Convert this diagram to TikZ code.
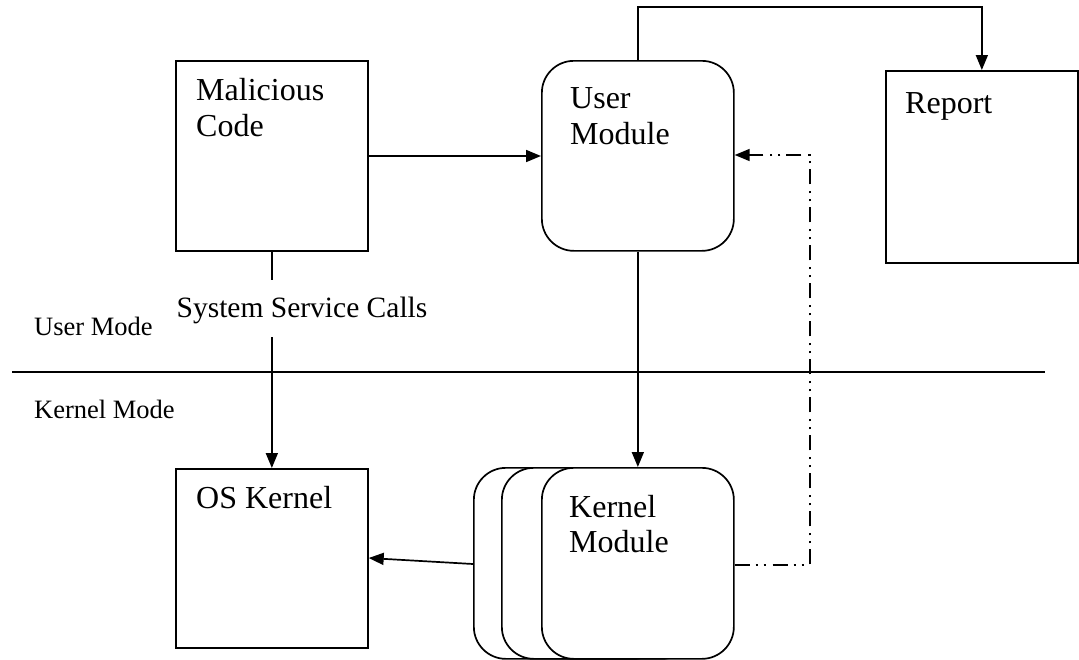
\documentclass[tikz,border=0pt]{standalone}
\usepackage{fontspec}
\setmainfont{Liberation Serif}
\usetikzlibrary{arrows.meta}
\begin{document}
\begin{tikzpicture}[x=1pt,y=-1pt,
  box/.style={draw, line width=1.7pt, fill=white, minimum width=192pt, inner sep=0pt, anchor=north west},
  rbox/.style={box, rounded corners=32pt},
  lbl/.style={font=\fontsize{32}{36}\selectfont, align=left, anchor=base west, inner sep=0pt},
  small/.style={font=\fontsize{26.5}{30}\selectfont, anchor=base west, inner sep=0pt},
  conn/.style={line width=1.7pt, -{Triangle[length=15pt,width=12pt]}},
  plain/.style={line width=1.7pt},
  dd/.style={conn, dash pattern=on 15pt off 6pt on 2pt off 6pt on 2pt off 7pt}]
\useasboundingbox (0,0) rectangle (1079,659);
% boxes
\node[box, minimum height=190pt] (mal) at (175,60) {};
\node[rbox, minimum height=190pt] (um) at (541,60) {};
\node[box, minimum height=192pt] (rep) at (885,70) {};
\node[box, minimum height=179pt] (os) at (175,468) {};
\node[rbox, minimum height=191pt] (km1) at (473,467) {};
\node[rbox, minimum height=191pt] (km2) at (501,467) {};
\node[rbox, minimum height=191pt] (km3) at (541,467) {};
% texts
\node[lbl] (maltxt) at (196,100) {Malicious};
\node[lbl] (maltxt2) at (196,136) {Code};
\node[lbl] (umtxt) at (570,108) {User};
\node[lbl] (umtxt2) at (570,144) {Module};
\node[lbl] (reptxt) at (905,113) {Report};
\node[lbl] (ostxt) at (196,508) {OS Kernel};
\node[lbl] (kmtxt) at (569,517) {Kernel};
\node[lbl] (kmtxt2) at (569,552) {Module};
\node[font=\fontsize{29.5}{33}\selectfont, anchor=base, inner sep=0pt] (ssc) at (302,317) {System Service Calls};
\node[small] (umode) at (34,335) {User Mode};
\node[small] (kmode) at (34,418) {Kernel Mode};
% separator
\coordinate (sepL) at (12,372);
\coordinate (sepR) at (1045,372);
\draw[plain] (sepL) -- (sepR);
% connectors
\draw[conn] (mal.east |- 0,156) -- (um.west |- 0,156);
\draw[plain] (mal.south) -- ++(0,28);
\draw[conn] (mal.south |- 0,337) -- (os.north);
\draw[conn] (um.north) -- ++(0,-53) -| (rep.north);
\draw[conn] (um.south) -- (km3.north);
\draw[conn] (km1.west |- 0,564) -- (os.east |- 0,558);
\draw[dd] (km3.east |- 0,565) -- (810,565) |- (um.east |- 0,155);
\end{tikzpicture}
\end{document}
